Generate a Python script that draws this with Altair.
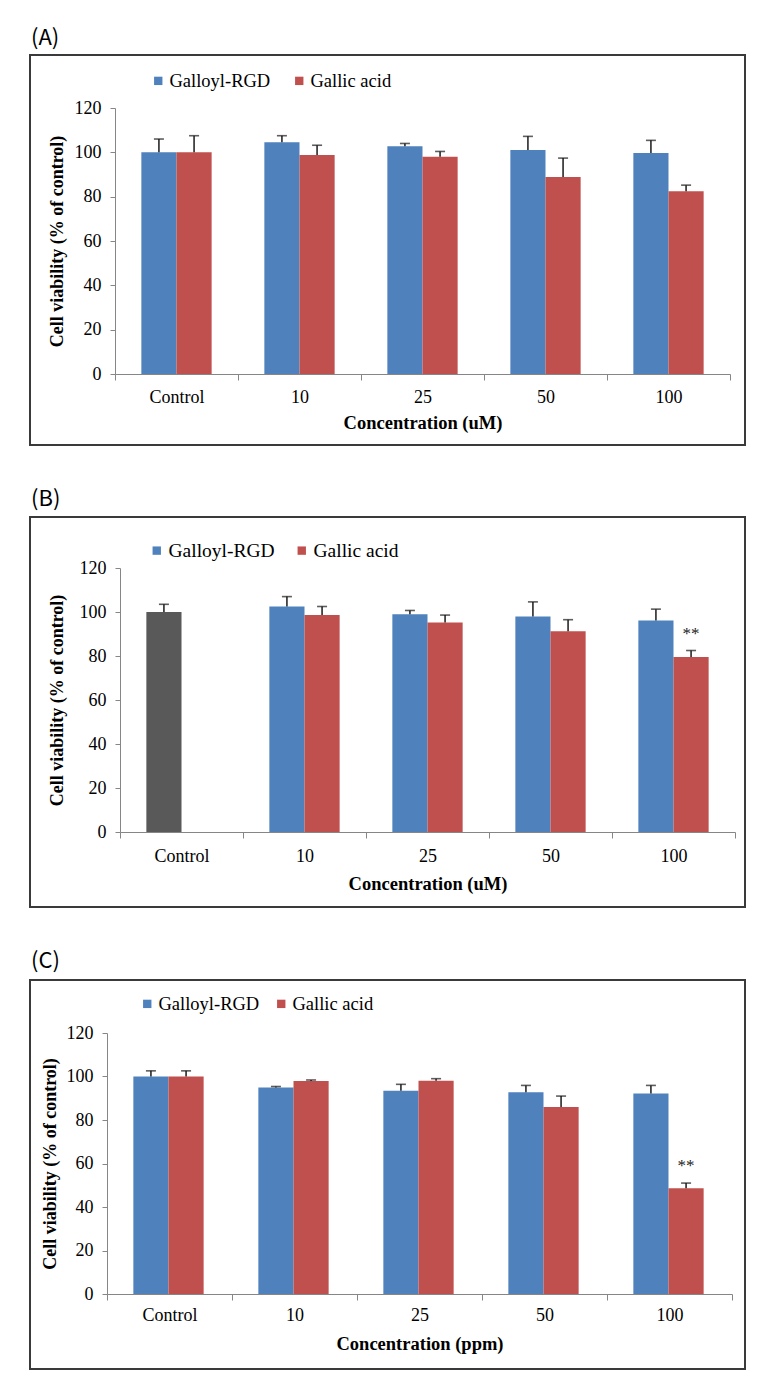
import altair as alt
import pandas as pd

categories = ["Control", "10", "25", "50", "100"]
series_names = ["Galloyl-RGD", "Gallic acid"]
panel_labels = ["(A)", "(B)", "(C)"]
x_titles = ["Concentration (uM)", "Concentration (uM)", "Concentration (ppm)"]
y_title = "Cell viability (% of control)"
y_ticks = [0, 20, 40, 60, 80, 100, 120]

# Panel A
a_galloyl = [100.0, 104.5, 102.8, 101.0, 99.7]
a_galloyl_err = [6.0, 3.0, 1.2, 6.2, 5.7]
a_gallic = [100.0, 98.8, 98.0, 88.9, 82.5]
a_gallic_err = [7.5, 4.4, 2.4, 8.5, 2.7]

# Panel B (control shown once, in gray)
b_control = [100.0]
b_control_err = [3.5]
b_galloyl = [102.5, 99.0, 97.9, 96.1]
b_galloyl_err = [4.5, 1.7, 6.7, 5.2]
b_gallic = [98.6, 95.2, 91.2, 79.6]
b_gallic_err = [3.9, 3.4, 5.3, 2.9]
b_star_cat = ["100"]
b_star_val = [90.0]

# Panel C
c_galloyl = [100.0, 95.0, 93.4, 92.8, 92.2]
c_galloyl_err = [2.6, 0.4, 3.0, 3.1, 3.7]
c_gallic = [100.0, 97.9, 98.0, 86.0, 48.6]
c_gallic_err = [2.6, 0.5, 1.0, 5.0, 2.4]
c_star_cat = ["100"]
c_star_val = [59.0]

colors_domain = ["Galloyl-RGD", "Gallic acid", "Control"]
colors_range = ["#4F81BD", "#C0504D", "#595959"]


def rows(cats, vals, errs, series, slot):
    return [
        {"category": c, "value": v, "upper": v + e, "series": series, "slot": slot}
        for c, v, e in zip(cats, vals, errs)
    ]


df_a = pd.DataFrame(
    rows(categories, a_galloyl, a_galloyl_err, "Galloyl-RGD", "left")
    + rows(categories, a_gallic, a_gallic_err, "Gallic acid", "right")
)
df_b = pd.DataFrame(
    rows(categories[:1], b_control, b_control_err, "Control", "left")
    + rows(categories[1:], b_galloyl, b_galloyl_err, "Galloyl-RGD", "left")
    + rows(categories[1:], b_gallic, b_gallic_err, "Gallic acid", "right")
)
df_c = pd.DataFrame(
    rows(categories, c_galloyl, c_galloyl_err, "Galloyl-RGD", "left")
    + rows(categories, c_gallic, c_gallic_err, "Gallic acid", "right")
)
stars_b = pd.DataFrame({"category": b_star_cat, "value": b_star_val, "slot": ["right"], "t": ["**"]})
stars_c = pd.DataFrame({"category": c_star_cat, "value": c_star_val, "slot": ["right"], "t": ["**"]})

SERIF = "Liberation Serif"
AXIS_GRAY = "#868686"


def panel(df, stars, label, xtitle, w, h, frame, label_pos, legend_pos,
          legend_font, col_pad, xlab_pad, xtitle_pad, ytitle_pad):
    x_axis = alt.Axis(
        labelAngle=0, tickBand="extent", tickSize=6, grid=False,
        domainColor=AXIS_GRAY, tickColor=AXIS_GRAY, domainWidth=1,
        labelFont=SERIF, labelFontSize=18, labelColor="black",
        labelPadding=xlab_pad, titleFont=SERIF, titleFontSize=18.5,
        titleFontWeight="bold", titleColor="black", titlePadding=xtitle_pad,
    )
    y_axis = alt.Axis(
        values=y_ticks, tickSize=5, grid=False,
        domainColor=AXIS_GRAY, tickColor=AXIS_GRAY, domainWidth=1,
        labelFont=SERIF, labelFontSize=18, labelColor="black", labelPadding=9,
        titleFont=SERIF, titleFontSize=18, titleFontWeight="bold",
        titleColor="black", titlePadding=ytitle_pad,
    )
    yscale = alt.Scale(domain=[0, 120], nice=False)
    x = alt.X("category:N", sort=categories, title=xtitle, axis=x_axis,
              scale=alt.Scale(domain=categories, paddingInner=0, paddingOuter=0))
    xo = alt.XOffset("slot:N", scale=alt.Scale(domain=["left", "right"],
                                               paddingInner=0, paddingOuter=0.75))
    y = alt.Y("value:Q", title=y_title, axis=y_axis, scale=yscale)

    color = alt.Color(
        "series:N", title=None,
        scale=alt.Scale(domain=colors_domain, range=colors_range),
        legend=alt.Legend(
            values=series_names, orient="none", direction="horizontal",
            legendX=legend_pos[0], legendY=legend_pos[1],
            symbolType="square", symbolSize=70, symbolStrokeWidth=0,
            labelFont=SERIF, labelFontSize=legend_font, labelColor="black",
            labelOffset=2, columnPadding=col_pad, padding=0,
        ),
    )

    bars = alt.Chart(df).mark_bar(opacity=1).encode(x=x, xOffset=xo, y=y, color=color)
    err = alt.Chart(df).mark_rule(color="#1a1a1a", strokeWidth=1.5).encode(
        x=x, xOffset=xo, y=y, y2="upper:Q")
    caps = alt.Chart(df).mark_tick(color="#1a1a1a", orient="horizontal",
                                   size=10, thickness=1.6).encode(
        x=x, xOffset=xo, y=alt.Y("upper:Q", title=y_title, axis=y_axis, scale=yscale))
    layers = [bars, err, caps]
    if stars is not None:
        layers.append(
            alt.Chart(stars).mark_text(font=SERIF, fontSize=17, color="#222",
                                       baseline="middle").encode(
                x=x, xOffset=xo, y=y, text="t:N")
        )
    one = pd.DataFrame({"label": [label]})
    frame_mark = alt.Chart(one).mark_rect(fillOpacity=0, stroke="#3a3a3a",
                                          strokeWidth=2).encode(
        x=alt.value(frame[0]), x2=alt.value(frame[1]),
        y=alt.value(frame[2]), y2=alt.value(frame[3]))
    label_mark = alt.Chart(one).mark_text(
        align="left", baseline="middle", font="Noto Sans CJK KR",
        fontSize=22, color="black").encode(
        x=alt.value(label_pos[0]), y=alt.value(label_pos[1]), text="label:N")
    layers += [frame_mark, label_mark]
    body = alt.layer(*layers).properties(width=w, height=h)

    # an invisible 1px column so the frame, not the plot, sets the left edge
    spacer = alt.Chart(one).mark_rect(opacity=0).encode(
        x=alt.value(0), x2=alt.value(1), y=alt.value(0), y2=alt.value(1)
    ).properties(width=1, height=1)
    return alt.hconcat(spacer, body, spacing=0).resolve_scale(
        color="independent").resolve_legend(color="independent")


pa = panel(df_a, None, panel_labels[0], x_titles[0], 615, 266,
           (-85, 630, -53, 337), (-84, -70), (34, -36.5), 18.5, 19, 8, 7.5, 8)
pb = panel(df_b, stars_b, panel_labels[1], x_titles[1], 615, 264,
           (-90, 625, -51, 339), (-89, -69), (27, -27.5), 19.5, 17, 9, 9.5, 13)
pc = panel(df_c, stars_c, panel_labels[2], x_titles[2], 625, 261,
           (-77, 638, -53, 336), (-76, -72), (31, -38.5), 18.5, 12, 6, 10, 7)

chart = alt.vconcat(pa, pb, pc, spacing=42).properties(
    padding={"left": 28, "top": 27, "right": 0, "bottom": 0},
    background="white",
).resolve_scale(color="independent").resolve_legend(
    color="independent").configure_view(strokeWidth=0)

chart.save("out.html", embed_options={"renderer": "svg", "actions": False})
